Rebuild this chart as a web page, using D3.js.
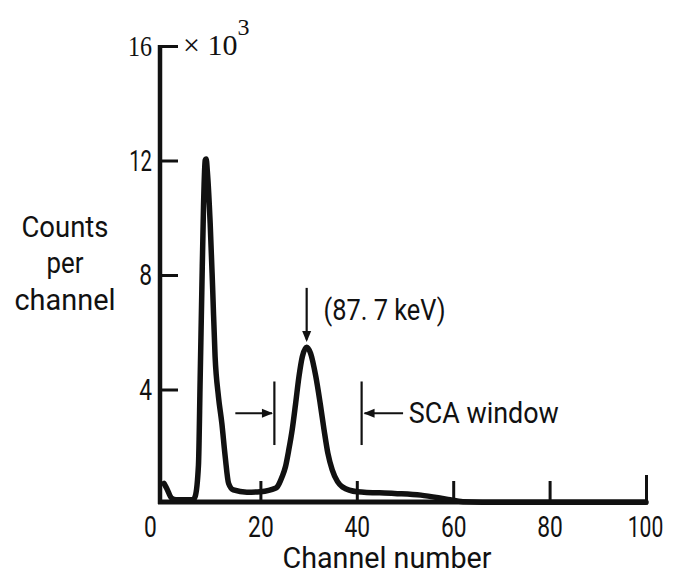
<!DOCTYPE html>
<html>
<head>
<meta charset="utf-8">
<script src="https://cdn.jsdelivr.net/npm/d3@7"></script>
<style>
  html, body { margin: 0; padding: 0; background: #fff; }
  svg { display: block; }
  text { fill: #111; }
  .sans { font-family: Roboto, "DejaVu Sans", sans-serif; font-weight: 400; }
  .serif { font-family: "Liberation Serif", "DejaVu Serif", serif; }
</style>
</head>
<body>
<svg id="chart" width="673" height="577"></svg>
<script>
// ---- data (counts in units of 10^3) ----
const channels = [0, 0.55, 1.6, 2.5, 4, 6, 6.46, 7.15, 7.5, 7.85, 8.2, 8.54, 8.75, 9.0, 9.58, 10.1, 10.6, 11.3, 12.0, 12.7, 13.4, 14.4, 17.2, 20, 23.1, 23.5, 24.5, 25.2, 25.9, 26.6, 27.3, 28.0, 28.7, 29.6, 30.4, 31.5, 32.4, 33.2, 34.0, 34.9, 36.0, 37.0, 40.1, 47.8, 53.3, 58.9, 62, 70, 80, 90, 100];
const counts   = [0.72, 0.55, 0.2, 0.15, 0.15, 0.15, 0.26, 1.36, 4.34, 7.48, 10.4, 12.0, 12.05, 11.6, 9.8, 7.5, 5.15, 3.75, 2.82, 1.65, 0.72, 0.49, 0.41, 0.43, 0.55, 0.6, 0.95, 1.3, 1.9, 2.6, 3.5, 4.45, 5.15, 5.48, 5.27, 4.45, 3.52, 2.6, 1.77, 1.19, 0.78, 0.6, 0.43, 0.37, 0.31, 0.16, 0.08, 0.06, 0.06, 0.06, 0.06];
const xTicks = [0, 20, 40, 60, 80, 100];
const yTicks = [4, 8, 12, 16];
const yLabelLines = ["Counts", "per", "channel"];
const xLabel = "Channel number";
const peakLabel = "(87. 7 keV)";
const windowLabel = "SCA window";
const windowEdges = [22.9, 41.0];

const svg = d3.select("#chart");
const x = d3.scaleLinear().domain([0, 100]).range([164, 646]);
const y = d3.scaleLinear().domain([0, 16]).range([504, 46]);

// narrow text width for a numeric label (reference font is condensed)
const numWidth = s => String(s).split("").reduce((w, c) => w + (c === "1" ? 10 : 12.8), 0);

// ---- x axis ----
const xAxis = d3.axisBottom(x).tickValues(xTicks).tickSizeInner(-21).tickSizeOuter(0).tickPadding(14);
const gx = svg.append("g").attr("transform", `translate(0,${y(0) - 2})`).call(xAxis);
gx.select(".domain").remove();
gx.attr("font-family", null).attr("font-size", null);
gx.selectAll(".tick line").attr("stroke", "#111").attr("stroke-width", 3);
gx.selectAll(".tick").filter(d => d === 100).select("line").attr("y2", -27);
gx.selectAll(".tick").filter(d => d === 0).select("line").remove();
gx.selectAll(".tick text")
  .attr("class", "sans").attr("font-size", 29).attr("fill", "#111")
  .attr("dy", "0.72em")
  .attr("textLength", d => numWidth(d))
  .attr("lengthAdjust", "spacingAndGlyphs")
  .attr("dx", d => d === 0 ? -14 : (d === 100 ? -1 : 0));
svg.append("line")
  .attr("x1", 158).attr("x2", x(100) + 2)
  .attr("y1", y(0) - 2).attr("y2", y(0) - 2)
  .attr("stroke", "#111").attr("stroke-width", 5);

// ---- y axis ----
const yAxis = d3.axisLeft(y).tickValues(yTicks).tickSizeInner(-18).tickSizeOuter(0).tickPadding(8);
const gy = svg.append("g").attr("transform", `translate(160,0)`).call(yAxis);
gy.select(".domain").remove();
gy.attr("font-family", null).attr("font-size", null);
gy.selectAll(".tick line").attr("stroke", "#111").attr("stroke-width", 3);
gy.selectAll(".tick text")
  .attr("class", d => d === 16 ? "serif" : "sans")
  .attr("font-size", d => d === 16 ? 29 : 30)
  .attr("textLength", d => d === 16 ? 24 : numWidth(d))
  .attr("lengthAdjust", "spacingAndGlyphs")
  .attr("fill", "#111");
svg.append("line")
  .attr("x1", 160).attr("x2", 160)
  .attr("y1", y(16) - 1).attr("y2", y(0))
  .attr("stroke", "#111").attr("stroke-width", 4.5);

// x 10^3 multiplier
const mult = svg.append("text")
  .attr("class", "serif")
  .attr("x", 183).attr("y", y(16) + 9)
  .attr("font-size", 30);
mult.append("tspan").text("\u00d7 10");
mult.append("tspan").attr("dy", -20).attr("font-size", 24).text("3");

// y label
const yLabelWidths = [87, 37, 101];
svg.append("text")
  .attr("class", "sans")
  .attr("font-size", 29)
  .attr("text-anchor", "middle")
  .selectAll("tspan").data(yLabelLines).join("tspan")
  .attr("x", 65)
  .attr("y", (d, i) => [237, 273, 310][i])
  .attr("textLength", (d, i) => yLabelWidths[i])
  .attr("lengthAdjust", "spacingAndGlyphs")
  .text(d => d);

// x label
svg.append("text")
  .attr("class", "sans")
  .attr("x", 387).attr("y", 568)
  .attr("font-size", 29)
  .attr("text-anchor", "middle")
  .attr("textLength", 209)
  .attr("lengthAdjust", "spacingAndGlyphs")
  .text(xLabel);

// ---- spectrum curve ----
const line = d3.line()
  .x((d, i) => x(channels[i]))
  .y(d => y(d))
  .curve(d3.curveMonotoneX);
svg.append("path")
  .datum(counts)
  .attr("d", line)
  .attr("fill", "none")
  .attr("stroke", "#111")
  .attr("stroke-width", 5.5)
  .attr("stroke-linejoin", "round")
  .attr("stroke-linecap", "round");

// ---- annotations ----
function arrowHead(tipX, tipY, dir) {
  const L = 11, W = 4.5;
  let pts;
  if (dir === "down") pts = [[tipX, tipY], [tipX - W, tipY - L], [tipX + W, tipY - L]];
  else if (dir === "right") pts = [[tipX, tipY], [tipX - L, tipY - W], [tipX - L, tipY + W]];
  else pts = [[tipX, tipY], [tipX + L, tipY - W], [tipX + L, tipY + W]];
  svg.append("path").attr("d", "M" + pts.join("L") + "Z").attr("fill", "#111");
}

// peak arrow
const peakCh = 29.6;
svg.append("line")
  .attr("x1", x(peakCh)).attr("x2", x(peakCh))
  .attr("y1", y(7.55)).attr("y2", y(5.75))
  .attr("stroke", "#111").attr("stroke-width", 2.2);
arrowHead(x(peakCh), y(5.66), "down");
svg.append("text")
  .attr("class", "sans")
  .attr("x", x(33.1)).attr("y", y(6.43))
  .attr("font-size", 30)
  .attr("textLength", 122)
  .attr("lengthAdjust", "spacingAndGlyphs")
  .text(peakLabel);

// SCA window markers
windowEdges.forEach(ch => {
  svg.append("line")
    .attr("x1", x(ch)).attr("x2", x(ch))
    .attr("y1", y(4.28)).attr("y2", y(2.06))
    .attr("stroke", "#111").attr("stroke-width", 2.2);
});
const arrowY = y(3.17);
svg.append("line").attr("x1", x(14.8)).attr("x2", x(22.4))
  .attr("y1", arrowY).attr("y2", arrowY).attr("stroke", "#111").attr("stroke-width", 2.2);
arrowHead(x(22.6), arrowY, "right");
svg.append("line").attr("x1", x(49.6)).attr("x2", x(41.6))
  .attr("y1", arrowY).attr("y2", arrowY).attr("stroke", "#111").attr("stroke-width", 2.2);
arrowHead(x(41.4), arrowY, "left");
svg.append("text")
  .attr("class", "sans")
  .attr("x", x(50.8)).attr("y", y(2.83))
  .attr("font-size", 30)
  .attr("textLength", 150)
  .attr("lengthAdjust", "spacingAndGlyphs")
  .text(windowLabel);
</script>
</body>
</html>
